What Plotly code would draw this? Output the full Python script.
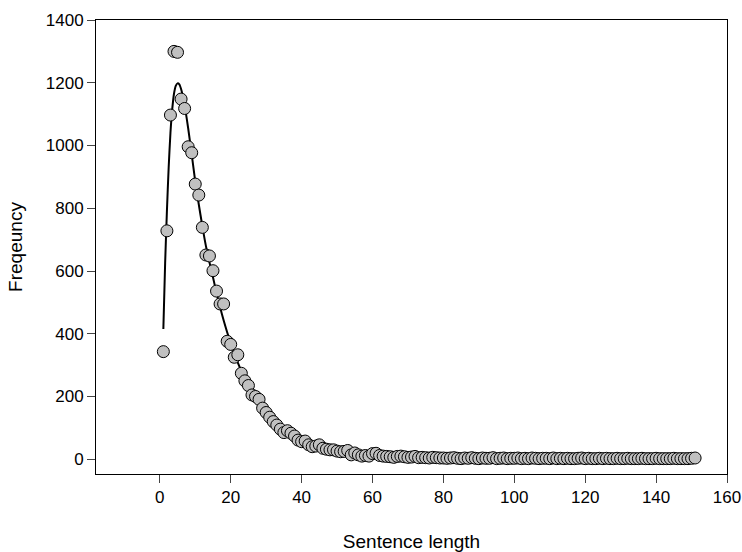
import plotly.graph_objects as go

# Observed data (sentence length vs frequency)
lengths = list(range(1, 152))
freq_head = [343, 728, 1097, 1300, 1297, 1148, 1118, 996, 977, 877,
             842, 739, 651, 648, 601, 536, 495, 495, 376, 366,
             325, 333, 274, 250, 235, 205, 200, 191, 163, 149,
             134, 120, 109, 96, 85, 91, 83, 74, 61, 56,
             58, 46, 40, 42, 46, 35, 32, 30, 30, 26,
             24, 25, 28, 14, 20, 14, 10, 12, 10, 18,
             19, 12, 10, 9, 8, 6, 9, 10, 8, 6,
             7, 9, 5, 6, 5, 4, 6, 5, 4, 4]
freq_tail = [3, 4, 5, 3, 2, 4, 3, 5, 3, 2,
             4, 3, 3, 5, 2, 3, 4, 2, 3, 3,
             4, 2, 3, 2, 4, 3, 2, 3, 3, 2,
             4, 2, 3, 2, 3, 2, 2, 3, 4, 2,
             3, 2, 2, 3, 2, 3, 2, 2, 3, 2,
             2, 3, 2, 2, 2, 3, 2, 2, 2, 3,
             2, 2, 2, 2, 3, 2, 2, 2, 2, 3, 4]
frequency = freq_head + freq_tail

# Fitted curve
fit_x = [1, 1.5, 2, 2.5, 3, 3.5, 4, 4.5, 5, 5.5, 6, 7, 8, 9, 10, 11, 12, 13, 14, 15,
         16, 17, 18, 19, 20, 22, 24, 26, 28, 30, 32, 34, 36, 38, 40, 45, 50, 55, 60,
         70, 80, 100, 125, 151]
fit_y = [415, 625, 790, 930, 1040, 1115, 1165, 1190, 1198, 1195, 1180, 1128, 1055, 972,
         885, 812, 743, 680, 628, 580, 530, 485, 443, 405, 370, 308, 256, 213, 178, 149,
         125, 105, 89, 76, 65, 44, 30, 21, 15, 8, 5, 3, 2, 1]

x_ticks = [0, 20, 40, 60, 80, 100, 120, 140, 160]
y_ticks = [0, 200, 400, 600, 800, 1000, 1200, 1400]

fig = go.Figure()
fig.add_trace(go.Scatter(x=fit_x, y=fit_y, mode="lines",
                         line=dict(color="black", width=2, shape="spline", smoothing=0.6),
                         showlegend=False))
fig.add_trace(go.Scatter(x=lengths, y=frequency, mode="markers",
                         marker=dict(symbol="circle", size=12, color="#c0c0c0",
                                     line=dict(color="black", width=1)),
                         showlegend=False))

font_family = "Liberation Sans, Arial, sans-serif"
fig.update_layout(
    width=742, height=552,
    margin=dict(l=96, r=15, t=20, b=78),
    paper_bgcolor="white", plot_bgcolor="white",
    font=dict(family=font_family, color="black", size=17),
    xaxis=dict(range=[-18, 160], tickvals=x_ticks, ticks="outside", ticklen=8,
               tickcolor="#444", showgrid=False, zeroline=False, showline=True,
               linecolor="black", linewidth=1, mirror=True, automargin=False,
               title=dict(text="Sentence length", font=dict(size=19), standoff=28),
               tickfont=dict(size=17)),
    yaxis=dict(range=[-47, 1400], tickvals=y_ticks, ticks="outside", ticklen=8,
               tickcolor="#444", showgrid=False, zeroline=False, showline=True,
               linecolor="black", linewidth=1, mirror=True, automargin=False,
               title=dict(text="Freqeuncy", font=dict(size=19), standoff=18),
               tickfont=dict(size=17)),
)

fig.write_html("out.html", config={"displayModeBar": False})

# remove the default page margin so the figure fills the window exactly
with open("out.html", "r", encoding="utf-8") as f:
    html = f.read()
html = html.replace("<head>", "<head><style>html,body{margin:0;padding:0;overflow:hidden;}</style>", 1)
with open("out.html", "w", encoding="utf-8") as f:
    f.write(html)
